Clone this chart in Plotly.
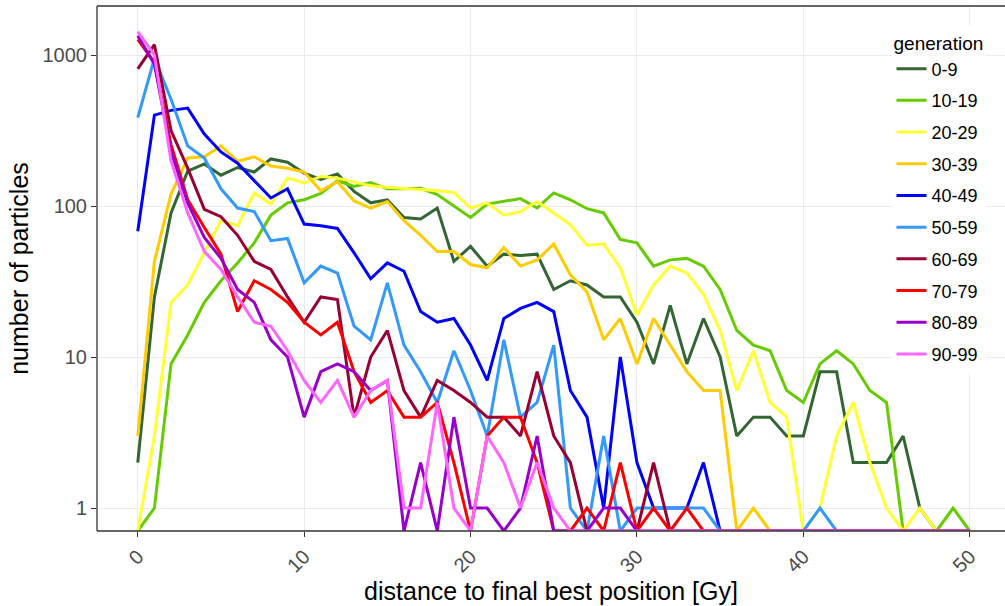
import numpy as np
import plotly.graph_objects as go

# distance to final best position (Gy), one bin per unit
distance = list(range(0, 51))

generations = ["0-9", "10-19", "20-29", "30-39", "40-49",
               "50-59", "60-69", "70-79", "80-89", "90-99"]

colors = ["#336633", "#66CC00", "#FFFF33", "#FFCC00", "#0000FF",
          "#3399FF", "#990033", "#FF0000", "#9900CC", "#FF66FF"]

# number of particles per distance bin, one list per generation group
gen_0_9 = [2, 25, 90, 170, 190, 160, 180, 168, 205, 195,
           165, 150, 163, 125, 105, 110, 84, 82, 97, 43,
           54, 40, 48, 47, 48, 28, 32, 30, 25, 25,
           17, 9, 22, 9, 18, 10, 3, 4, 4, 3,
           3, 8, 8, 2, 2, 2, 3, 1, 0, 0, 0]
gen_10_19 = [0, 1, 9, 14, 23, 32, 42, 57, 87, 105,
             110, 121, 147, 135, 143, 130, 130, 131, 119, 100,
             84, 103, 107, 112, 97, 122, 110, 96, 90, 60,
             57, 40, 44, 45, 40, 28, 15, 12, 11, 6,
             5, 9, 11, 9, 6, 5, 0, 0, 0, 1, 0]
gen_20_29 = [0, 3, 23, 30, 49, 80, 74, 122, 103, 153,
             142, 157, 153, 145, 136, 133, 131, 128, 126, 123,
             97, 105, 87, 92, 107, 90, 75, 55, 56, 39,
             19, 30, 40, 36, 26, 15, 6, 11, 5, 4,
             0, 1, 3, 5, 2, 1, 0, 1, 0, 0, 0]
gen_30_39 = [3, 43, 120, 208, 212, 250, 198, 212, 184, 178,
             168, 126, 145, 108, 97, 107, 80, 64, 50, 50,
             41, 39, 53, 40, 44, 56, 35, 27, 13, 18,
             9, 18, 12, 8, 6, 6, 0, 1, 0, 0,
             0, 0, 0, 0, 0, 0, 0, 0, 0, 0, 0]
gen_40_49 = [68, 400, 430, 445, 300, 228, 192, 147, 113, 130,
             76, 74, 71, 49, 33, 42, 37, 20, 17, 18,
             12, 7, 18, 21, 23, 20, 6, 4, 1, 10,
             2, 1, 1, 1, 2, 0, 0, 0, 0, 0,
             0, 0, 0, 0, 0, 0, 0, 0, 0, 0, 0]
gen_50_59 = [385, 950, 510, 250, 208, 130, 97, 92, 59, 61,
             31, 40, 36, 16, 13, 31, 12, 8, 5, 11,
             6, 3, 13, 4, 5, 12, 1, 0, 3, 0,
             1, 1, 1, 1, 1, 0, 0, 0, 0, 0,
             0, 1, 0, 0, 0, 0, 0, 0, 0, 0, 0]
gen_60_69 = [810, 1170, 316, 178, 95, 85, 64, 43, 38, 25,
             17, 25, 24, 4, 10, 15, 6, 4, 7, 6,
             5, 4, 4, 3, 8, 3, 2, 0, 0, 0,
             0, 2, 0, 0, 0, 0, 0, 0, 0, 0,
             0, 0, 0, 0, 0, 0, 0, 0, 0, 0, 0]
gen_70_79 = [1270, 890, 255, 110, 72, 48, 20, 32, 28, 23,
             17, 14, 17, 8, 5, 6, 4, 4, 5, 2,
             0, 3, 4, 4, 2, 0, 0, 1, 0, 2,
             0, 1, 0, 1, 0, 0, 0, 0, 0, 0,
             0, 0, 0, 0, 0, 0, 0, 0, 0, 0, 0]
gen_80_89 = [1340, 870, 230, 105, 62, 45, 28, 23, 13, 10,
             4, 8, 9, 8, 6, 7, 0, 2, 0, 4,
             1, 1, 0, 1, 3, 0, 0, 0, 1, 1,
             0, 0, 0, 0, 0, 0, 0, 0, 0, 0,
             0, 0, 0, 0, 0, 0, 0, 0, 0, 0, 0]
gen_90_99 = [1430, 1000, 200, 90, 50, 38, 25, 17, 16, 11,
             7, 5, 7, 4, 6, 7, 1, 1, 5, 1,
             0, 3, 2, 1, 2, 1, 0, 0, 0, 0,
             0, 0, 0, 0, 0, 0, 0, 0, 0, 0,
             0, 0, 0, 0, 0, 0, 0, 0, 0, 0, 0]

counts = [gen_0_9, gen_10_19, gen_20_29, gen_30_39, gen_40_49,
          gen_50_59, gen_60_69, gen_70_79, gen_80_89, gen_90_99]

x_ticks = [0, 10, 20, 30, 40, 50]
y_ticks = [1, 10, 100, 1000]

# log10 axis limits; empty bins sit on the lower edge of the panel
y_lo, y_hi = -0.152, 3.3245
x_lo, x_hi = -2.45, 52.12
floor_val = 10 ** y_lo

FONT = "Liberation Sans, Arial, sans-serif"

fig = go.Figure()
for name, col, vals in zip(generations, colors, counts):
    v = np.asarray(vals, dtype=float)
    y = np.where(v > 0, v, floor_val)
    fig.add_trace(go.Scatter(
        x=distance, y=y, mode="lines", name=name,
        legendgroup=name,
        line=dict(color=col, width=3),
        cliponaxis=True,
    ))

# panel border on left, top and bottom
for x0, y0, x1, y1 in [(0, 0, 0, 1), (0, 1, 1, 1), (0, 0, 1, 0)]:
    fig.add_shape(type="line", xref="paper", yref="paper",
                  x0=x0, y0=y0, x1=x1, y1=y1,
                  line=dict(color="#333333", width=1.3))

fig.update_layout(
    width=1005, height=606,
    margin=dict(l=97, r=0, t=6, b=75),
    paper_bgcolor="white", plot_bgcolor="white",
    font=dict(family=FONT, color="black"),
    showlegend=True,
    legend=dict(
        title=dict(text="generation", font=dict(size=19, family=FONT, color="black")),
        font=dict(size=18, family=FONT, color="black"),
        x=0.875, y=0.9624, xanchor="left", yanchor="top",
        bgcolor="white", borderwidth=0,
        tracegroupgap=5.3,
        itemwidth=30,
    ),
    xaxis=dict(
        range=[x_lo, x_hi],
        tickvals=x_ticks, ticktext=[str(t) for t in x_ticks],
        tickangle=-45,
        tickfont=dict(size=20, color="#4D4D4D", family=FONT),
        ticks="outside", ticklen=5, tickcolor="#333333", tickwidth=1.2,
        showgrid=True, gridcolor="#EBEBEB", gridwidth=1.2,
        zeroline=False, showline=False,
        title=dict(text="distance to final best position [Gy]",
                   font=dict(size=25, family=FONT, color="black"),
                   standoff=0),
    ),
    yaxis=dict(
        type="log", range=[y_lo, y_hi],
        tickvals=y_ticks, ticktext=[str(t) for t in y_ticks],
        tickfont=dict(size=20, color="#4D4D4D", family=FONT),
        ticks="outside", ticklen=5, tickcolor="#333333", tickwidth=1.2,
        showgrid=True, gridcolor="#EBEBEB", gridwidth=1.2,
        zeroline=False, showline=False,
        title=dict(text="number of particles",
                   font=dict(size=25, family=FONT, color="black"),
                   standoff=6),
    ),
)

fig.write_html("out.html")
